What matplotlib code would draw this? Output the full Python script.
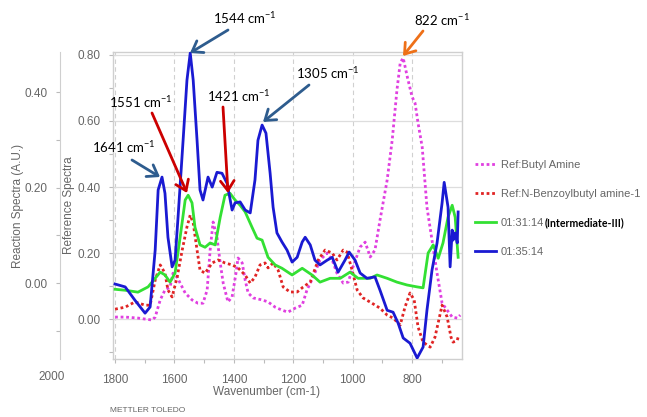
import matplotlib
matplotlib.use("Agg")
import matplotlib.pyplot as plt
from matplotlib.ticker import MultipleLocator

plt.rcParams['mathtext.fontset'] = 'custom'
plt.rcParams['mathtext.rm'] = 'Lato'
plt.rcParams['mathtext.it'] = 'Lato:italic'
plt.rcParams['mathtext.bf'] = 'Lato:bold'

# ---------------- data ----------------
# Reference spectra (left inner axis, "Reference Spectra")
butyl_wn = [1800, 1766, 1723, 1675, 1665, 1648, 1632, 1615, 1605, 1591, 1581, 1564, 1541, 1521,
            1504, 1490, 1480, 1470, 1457, 1446, 1436, 1420, 1406, 1393, 1386, 1372, 1362, 1352,
            1335, 1305, 1285, 1261, 1238, 1218, 1194, 1170, 1154, 1133, 1110, 1086, 1069, 1053,
            1032, 1015, 999, 975, 958, 941, 925, 908, 884, 867, 851, 840, 830, 816, 800, 790,
            780, 766, 750, 733, 716, 699, 682, 665, 648, 638]
butyl_val = [0.006, 0.006, 0.003, -0.003, 0.006, 0.058, 0.088, 0.097, 0.139, 0.127, 0.109, 0.079,
             0.058, 0.048, 0.048, 0.088, 0.209, 0.294, 0.248, 0.170, 0.109, 0.052, 0.067, 0.139,
             0.185, 0.170, 0.118, 0.079, 0.064, 0.058, 0.052, 0.036, 0.027, 0.021, 0.033, 0.042,
             0.088, 0.127, 0.179, 0.200, 0.179, 0.139, 0.109, 0.112, 0.158, 0.218, 0.233, 0.188,
             0.209, 0.300, 0.421, 0.542, 0.694, 0.776, 0.791, 0.733, 0.673, 0.654, 0.594, 0.521,
             0.339, 0.239, 0.139, 0.048, 0.027, 0.006, 0.003, 0.012]

benz_wn = [1800, 1766, 1733, 1699, 1682, 1665, 1648, 1632, 1622, 1608, 1591, 1574, 1558, 1547,
           1537, 1524, 1514, 1497, 1473, 1453, 1430, 1406, 1386, 1362, 1345, 1329, 1312, 1295,
           1285, 1268, 1251, 1234, 1211, 1187, 1167, 1143, 1116, 1093, 1069, 1053, 1032, 1019,
           1002, 985, 965, 935, 908, 884, 864, 840, 824, 807, 793, 780, 763, 739, 723, 699, 682,
           669, 662, 648, 645]
benz_val = [0.030, 0.036, 0.052, 0.042, 0.042, 0.118, 0.164, 0.139, 0.088, 0.067, 0.127, 0.209,
            0.279, 0.315, 0.291, 0.209, 0.148, 0.139, 0.170, 0.179, 0.170, 0.164, 0.155, 0.133,
            0.109, 0.127, 0.164, 0.170, 0.155, 0.170, 0.148, 0.097, 0.082, 0.082, 0.097, 0.112,
            0.179, 0.209, 0.200, 0.179, 0.209, 0.203, 0.148, 0.088, 0.064, 0.048, 0.033, 0.012,
            0.003, -0.018, 0.036, 0.079, 0.058, -0.024, -0.070, -0.085, -0.055, 0.042, 0.006,
            -0.055, -0.070, -0.064, -0.055]

# Reaction spectra (outer axis, "Reaction Spectra (A.U.)")
t1_wn = [1800, 1766, 1723, 1689, 1665, 1648, 1632, 1615, 1598, 1581, 1564, 1554, 1541, 1531,
         1514, 1497, 1480, 1463, 1446, 1430, 1413, 1396, 1379, 1362, 1339, 1322, 1305, 1285,
         1261, 1238, 1204, 1170, 1137, 1110, 1076, 1042, 1009, 982, 941, 918, 884, 851, 817,
         783, 763, 746, 729, 712, 696, 679, 665, 655, 645]
t1_val = [-0.013, -0.015, -0.019, -0.008, 0.010, 0.023, 0.017, 0.002, 0.021, 0.096, 0.174, 0.184,
          0.168, 0.117, 0.080, 0.075, 0.084, 0.080, 0.138, 0.184, 0.188, 0.174, 0.163, 0.149,
          0.117, 0.094, 0.090, 0.054, 0.038, 0.031, 0.017, 0.031, 0.017, 0.002, 0.010, 0.010,
          0.023, 0.010, 0.010, 0.017, 0.010, 0.002, -0.004, -0.008, -0.010, 0.063, 0.080, 0.052,
          0.084, 0.138, 0.163, 0.138, 0.054]

t2_wn = [1800, 1766, 1733, 1699, 1682, 1665, 1655, 1642, 1632, 1622, 1608, 1598, 1588, 1571,
         1558, 1547, 1537, 1524, 1514, 1504, 1487, 1473, 1457, 1440, 1423, 1406, 1396, 1379,
         1362, 1345, 1329, 1319, 1305, 1292, 1278, 1268, 1255, 1238, 1221, 1204, 1187, 1170,
         1160, 1143, 1127, 1110, 1086, 1069, 1049, 1026, 1012, 992, 975, 952, 925, 908, 884,
         864, 847, 830, 807, 783, 763, 750, 733, 716, 699, 692, 679, 672, 665, 662, 655, 648, 645]
t2_val = [-0.002, -0.008, -0.036, -0.063, -0.050, 0.069, 0.195, 0.222, 0.188, 0.096, 0.034,
          0.048, 0.138, 0.299, 0.425, 0.482, 0.425, 0.299, 0.195, 0.174, 0.222, 0.201, 0.232,
          0.230, 0.209, 0.153, 0.168, 0.170, 0.153, 0.147, 0.216, 0.299, 0.331, 0.314, 0.230,
          0.159, 0.105, 0.086, 0.069, 0.044, 0.054, 0.086, 0.096, 0.080, 0.048, 0.038, 0.048,
          0.054, 0.023, 0.048, 0.065, 0.048, 0.021, 0.010, 0.013, -0.015, -0.057, -0.061,
          -0.084, -0.115, -0.126, -0.157, -0.134, -0.057, 0.027, 0.084, 0.168, 0.211, 0.159,
          0.034, 0.111, 0.090, 0.105, 0.084, 0.149]

labels = ["Ref:Butyl Amine", "Ref:N-Benzoylbutyl amine-1", "01:31:14", "01:35:14"]
ref_ticks = [0.0, 0.2, 0.4, 0.6, 0.8]
rxn_ticks = [0.0, 0.2, 0.4]
x_ticks = [1800, 1600, 1400, 1200, 1000, 800]

ann_text = ["1544 cm$^{-1}$", "822 cm$^{-1}$", "1305 cm$^{-1}$", "1551 cm$^{-1}$",
            "1421 cm$^{-1}$", "1641 cm$^{-1}$"]

# ---------------- figure ----------------
W, H = 647, 417
fig = plt.figure(figsize=(W / 100, H / 100), dpi=100)
L, R, T, B = 113, 462, 52, 359
ax = fig.add_axes([L / W, 1 - B / H, (R - L) / W, (B - T) / H])
ax2 = ax.twinx()

grey = "#666666"
spine_c = "#cfcfcf"
tfont = dict(family="Liberation Sans", size=8.5, color=grey)

ax.set_xlim(1807, 632)
ax.set_ylim(-0.121, 0.809)
ax2.set_ylim(-0.159, 0.484)

c_pink = "#E040E0"
c_red = "#E02424"
c_green = "#33E033"
c_blue = "#1A1AD2"
l1, = ax.plot(butyl_wn, butyl_val, color=c_pink, lw=2.0, ls=(0, (1, 1)), label=labels[0])
l2, = ax.plot(benz_wn, benz_val, color=c_red, lw=2.0, ls=(0, (1, 1)), label=labels[1])
l3, = ax2.plot(t1_wn, t1_val, color=c_green, lw=2.0, label=labels[2])
l4, = ax2.plot(t2_wn, t2_val, color=c_blue, lw=2.0, label=labels[3])

# grid
ax.set_xticks(x_ticks)
ax.xaxis.set_minor_locator(MultipleLocator(100))
ax.set_yticks(ref_ticks)
ax.yaxis.set_minor_locator(MultipleLocator(0.1))
ax.grid(axis="x", which="major", color="#d0d0d0", ls=(0, (4, 3)), lw=0.8)
ax.grid(axis="y", which="major", color="#dddddd", ls="-", lw=0.9)
ax.set_axisbelow(True)
ax.set_yticklabels([f"{v:.2f}" for v in ref_ticks], **tfont)
ax.set_xticklabels([str(v) for v in x_ticks], **tfont)
ax.tick_params(axis="both", which="both", color="#bbbbbb", length=3, width=0.8)
ax.tick_params(axis="y", pad=6)
ax.tick_params(axis="x", pad=8)
for s in ax.spines.values():
    s.set_color(spine_c)
    s.set_linewidth(1.0)

# reaction axis on the far left
ax2.yaxis.tick_left()
ax2.yaxis.set_label_position("left")
ax2.spines["left"].set_position(("axes", (60 - L) / (R - L)))
ax2.spines["left"].set_color(spine_c)
for k in ("right", "top", "bottom"):
    ax2.spines[k].set_visible(False)
ax2.set_yticks(rxn_ticks)
ax2.yaxis.set_minor_locator(MultipleLocator(0.1))
ax2.set_yticklabels([f"{v:.2f}" for v in rxn_ticks], **tfont)
ax2.tick_params(axis="y", which="both", color="#bbbbbb", length=3, width=0.8, pad=6)

ax.set_ylabel("Reference Spectra", family="Liberation Sans", size=8.5, color=grey)
ax.yaxis.set_label_coords((75 - L) / (R - L), 0.5)
ax2.set_ylabel("Reaction Spectra (A.U.)", family="Liberation Sans", size=8.5, color=grey)
ax2.yaxis.set_label_coords((24 - L) / (R - L), 0.5)
ax.set_xlabel("Wavenumber (cm-1)", family="Liberation Sans", size=8.5, color=grey)
ax.xaxis.set_label_coords((267 - L) / (R - L), -(386 - B) / (B - T))

fig.text(52 / W, 1 - 377 / H, "2000", ha="center", va="center", **tfont)
fig.text(148 / W, 1 - 411 / H, "METTLER TOLEDO", ha="center", va="center",
         family="Liberation Sans", size=6, color=grey)

# legend
leg = fig.legend(handles=[l1, l2, l3, l4], labels=labels, loc="upper left",
                 bbox_to_anchor=(465 / W, 1 - 150 / H), frameon=False,
                 prop=dict(family="Liberation Sans", size=8), labelcolor=grey,
                 handlelength=1.9, handletextpad=0.4, labelspacing=1.7)
fig.canvas.draw()
bb = leg.get_texts()[2].get_window_extent()
fig.text(bb.x1 / W + 0.001, (bb.y0 + bb.y1) / 2 / H, "(Intermediate-III)",
         ha="left", va="center", family="Lato", weight="bold", size=7.6, color="black")

# annotations
def px(x, y):
    return (x / W, 1 - y / H)

ann = [
    (ann_text[0], (245, 18), (228, 30), (190, 53), "#2E5C8E"),
    (ann_text[1], (442, 20), (423, 31), (403, 56), "#EE7018"),
    (ann_text[2], (328, 73), (309, 85), (263, 122), "#2E5C8E"),
    (ann_text[3], (141, 102), (152, 113), (187, 193), "#CC0000"),
    (ann_text[4], (239, 96), (223, 107), (228, 193), "#CC0000"),
    (ann_text[5], (124, 147), (132, 160), (160, 177), "#2E5C8E"),
]
for txt, tp, a0, a1, col in ann:
    fig.text(*px(*tp), txt, ha="center", va="center", family="Lato", size=9.5, color="black")
    fig.add_artist(matplotlib.patches.FancyArrowPatch(
        px(*a0), px(*a1), transform=fig.transFigure,
        arrowstyle="->,head_length=5,head_width=3.5",
        color=col, lw=2.0, mutation_scale=1.4, shrinkA=0, shrinkB=0))

fig.savefig("out.png", dpi=100)
